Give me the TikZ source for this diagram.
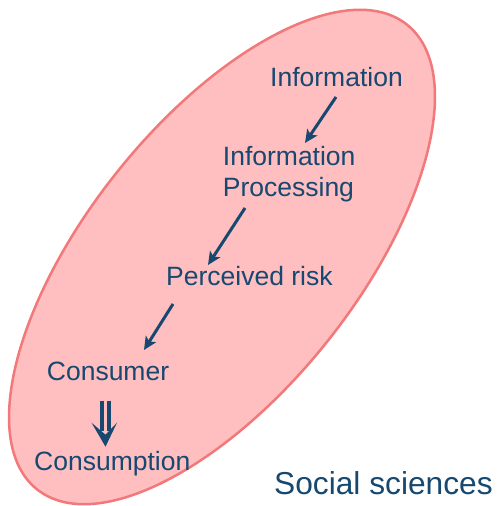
\documentclass[tikz,border=0pt]{standalone}
\usepackage{fontspec}
\setmainfont{Liberation Sans}
\usetikzlibrary{arrows.meta}
\definecolor{pinkfill}{RGB}{255,190,192}
\definecolor{pinkline}{RGB}{242,120,122}
\definecolor{txtblue}{RGB}{22,72,112}
\tikzset{
  lbl/.style={anchor=base west, inner sep=0pt, text=txtblue, font=\fontsize{26.5}{31}\selectfont},
  arr/.style={draw=txtblue, line width=3pt, -{Stealth[length=13pt,width=12pt,inset=3pt]}},
}
\begin{document}
\begin{tikzpicture}[x=1pt,y=1pt]
\useasboundingbox (0,0) rectangle (497,506);
\draw[fill=pinkfill, draw=pinkline, line width=2.5pt, rotate around={51.5:(222,249)}]
  (222,249) ellipse [x radius=297pt, y radius=135pt];
\node[lbl] (info) at (270,419) {Information};
\node[lbl, align=left] (proc) at (222.7,309) {Information\\Processing};
\node[lbl] (risk) at (166,220) {Perceived risk};
\node[lbl] (cons) at (46.7,125) {Consumer};
\node[lbl] (consn) at (34,35) {Consumption};
\node[anchor=base west, inner sep=0pt, text=txtblue, font=\fontsize{31.7}{37}\selectfont] (soc) at (274,12) {Social sciences};
\coordinate (a1s) at (336,409);
\coordinate (a1e) at (305,363);
\coordinate (a2s) at (245,298);
\coordinate (a2e) at (208,241);
\coordinate (a3s) at (173,202);
\coordinate (a3e) at (144,156);
\draw[arr] (a1s) -- (a1e);
\draw[arr] (a2s) -- (a2e);
\draw[arr] (a3s) -- (a3e);
% double arrow Consumer => Consumption
\coordinate (d1) at (105.5,105.3);
\coordinate (d2) at (105.5,59.3);
\draw[txtblue, line width=3.6pt] ([xshift=-3.6pt]d1) -- ([xshift=-3.6pt,yshift=16pt]d2);
\draw[txtblue, line width=3.6pt] ([xshift=3.6pt]d1) -- ([xshift=3.6pt,yshift=16pt]d2);
\fill[txtblue] ([xshift=-14pt,yshift=24pt]d2) -- (d2) -- ([xshift=11.5pt,yshift=24pt]d2) -- ([yshift=12pt]d2) -- cycle;
\end{tikzpicture}
\end{document}
